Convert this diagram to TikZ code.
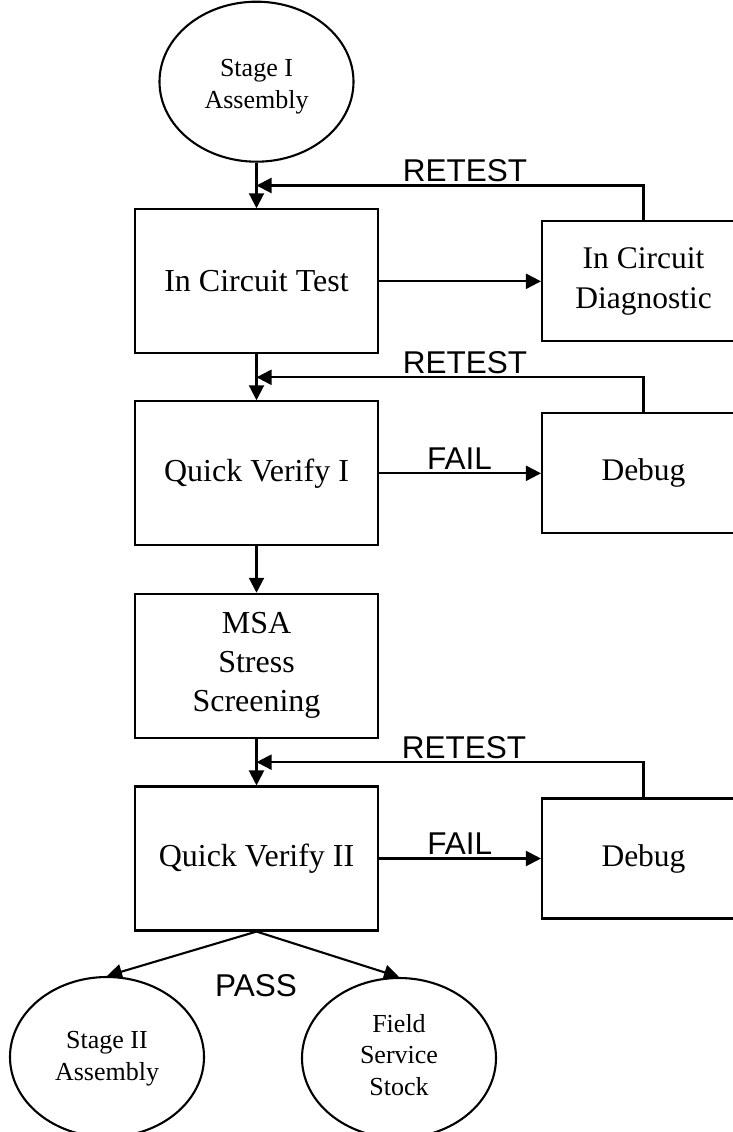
\documentclass[tikz,border=0pt]{standalone}
\usepackage{fontspec}
\setmainfont{Liberation Serif}
\newfontfamily\tagfont{Liberation Sans}
\usetikzlibrary{arrows.meta,shapes.geometric,calc}
\begin{document}
\begin{tikzpicture}[x=1pt,y=-1pt,line width=2.1pt,
  proc/.style={draw, rectangle, minimum width=243pt, minimum height=144pt,
    inner sep=0pt, align=center, font=\fontsize{32}{39}\selectfont},
  side/.style={draw, rectangle, minimum width=203pt, minimum height=120pt,
    inner sep=0pt, align=center, font=\fontsize{31.5}{40}\selectfont},
  terminal/.style={draw, ellipse, minimum width=194pt, minimum height=160pt, inner sep=0pt},
  etext/.style={align=center, inner sep=0pt, font=\fontsize{26}{31.7}\selectfont},
  tag/.style={inner sep=0pt, font=\tagfont\fontsize{31.5}{36}\selectfont},
  flow/.style={-{Triangle[length=15pt,width=15pt]}},
]
\clip (0,0) rectangle (733,1132);

% main column
\node[terminal, label={[etext, name=s1t, yshift=-5pt]center:Stage I\\Assembly}] (s1) at (256.5,81.7) {};
\node[proc] (ict) at (256.5,281.3) {In Circuit Test};
\node[proc] (qv1) at (256.5,473.3) {Quick Verify I};
\node[proc] (msa) at (256.5,665.8) {MSA\\Stress\\Screening};
\node[proc] (qv2) at (256.5,858.5) {Quick Verify II};

% repair loops on the right
\node[side] (icd) at (643.5,281.3) {In Circuit\\Diagnostic};
\node[side] (dbg1) at (643.5,473.3) {Debug};
\node[side] (dbg2) at (643.5,858.5) {Debug};

% outputs
\node[terminal, label={[etext, name=s2t, yshift=-1.5pt]center:Stage II\\Assembly}] (s2) at (107,1057) {};
\node[terminal, label={[etext, name=fst, yshift=3pt]center:Field\\Service\\Stock}] (fs) at (399,1058) {};

% junctions where the retest lines rejoin the main flow
\coordinate (j1) at ($(s1.south)!0.5!(ict.north)$);
\coordinate (j2) at ($(ict.south)!0.5!(qv1.north)$);
\coordinate (j3) at ($(msa.south)!0.5!(qv2.north)$);

% main flow
\draw[flow] (s1.south) -- (ict.north);
\draw[flow] (ict.south) -- (qv1.north);
\draw[flow] (qv1.south) -- (msa.north);
\draw[flow] (msa.south) -- (qv2.north);

% failures and retests
\draw[flow] (ict.east) -- (icd.west);
\draw[flow] (icd.north) |- (j1);
\draw[flow] (qv1.east) -- (dbg1.west);
\draw[flow] (dbg1.north) |- (j2);
\draw[flow] (qv2.east) -- (dbg2.west);
\draw[flow] (dbg2.north) |- (j3);

% pass
\draw[flow] (qv2.south) -- (s2.north);
\draw[flow] (qv2.south) -- (fs.north);

% labels
\node[tag] (rt1) at (465,170.3) {RETEST};
\node[tag] (rt2) at (465,362.5) {RETEST};
\node[tag] (rt3) at (464,748) {RETEST};
\node[tag] (fl1) at (459.5,459) {FAIL};
\node[tag] (fl2) at (459.7,844) {FAIL};
\node[tag] (ps) at (256,986) {PASS};
\end{tikzpicture}
\end{document}
